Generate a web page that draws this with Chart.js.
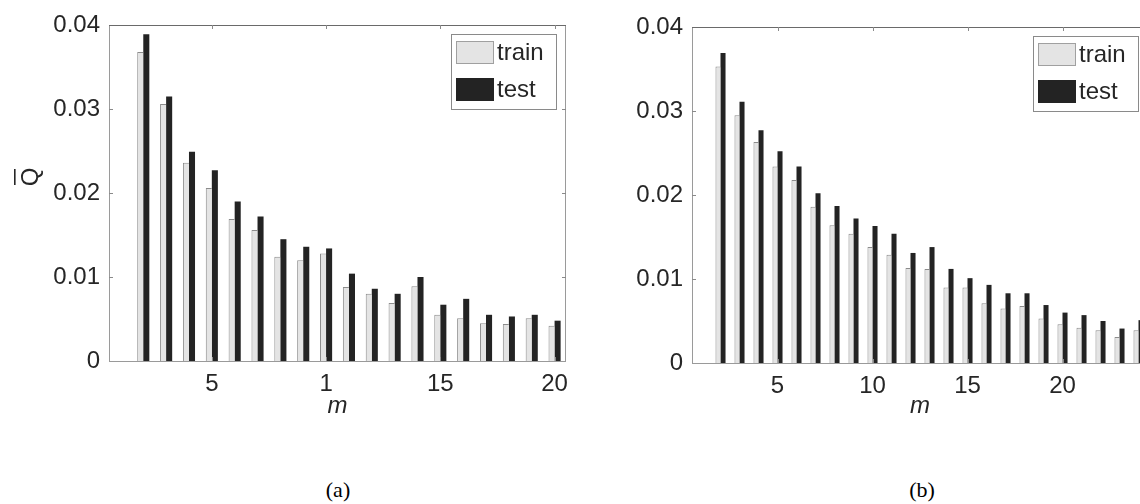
<!DOCTYPE html>
<html>
<head>
<meta charset="utf-8">
<script src="https://cdn.jsdelivr.net/npm/chart.js@4.4.0/dist/chart.umd.min.js"></script>
<style>
  body { margin: 0; width: 1140px; height: 504px; overflow: hidden; background: #fff; position: relative; }
  .panel { position: absolute; top: 0; height: 421px; }
  #panelA { left: 0; width: 580px; }
  #panelB { left: 580px; width: 580px; }
  .caption { position: absolute; top: 477px; font: 22px "Liberation Serif", "Times New Roman", serif; color: #000; transform: translateX(-50%); }
</style>
</head>
<body>
<div class="panel" id="panelA"><canvas id="chartA"></canvas></div>
<div class="panel" id="panelB"><canvas id="chartB"></canvas></div>
<div class="caption" style="left:338px">(a)</div>
<div class="caption" style="left:922px">(b)</div>
<script>
// (a) m = 2..20
let mA = [2, 3, 4, 5, 6, 7, 8, 9, 10, 11, 12, 13, 14, 15, 16, 17, 18, 19, 20];
let trainA = [0.0368, 0.0306, 0.0236, 0.0206, 0.0169, 0.0156, 0.0124, 0.0120, 0.0128, 0.0088,
  0.0080, 0.0069, 0.0089, 0.0055, 0.0051, 0.0045, 0.0044, 0.0051, 0.0042];
let testA = [0.0389, 0.0315, 0.0249, 0.0227, 0.0190, 0.0172, 0.0145, 0.0136, 0.0134, 0.0104,
  0.0086, 0.0080, 0.0100, 0.0067, 0.0074, 0.0055, 0.0053, 0.0055, 0.0048];

// (b) m = 2..24
let mB = [2, 3, 4, 5, 6, 7, 8, 9, 10, 11, 12, 13, 14, 15, 16, 17, 18, 19, 20, 21, 22, 23, 24];
let trainB = [0.0353, 0.0295, 0.0263, 0.0234, 0.0218, 0.0186, 0.0164, 0.0154, 0.0138, 0.0129,
  0.0113, 0.0112, 0.0090, 0.0090, 0.0071, 0.0065, 0.0068, 0.0053, 0.0046, 0.0042, 0.0039, 0.0031, 0.0039];
let testB = [0.0369, 0.0311, 0.0277, 0.0252, 0.0234, 0.0202, 0.0187, 0.0172, 0.0163, 0.0154,
  0.0131, 0.0138, 0.0112, 0.0101, 0.0093, 0.0083, 0.0083, 0.0069, 0.0060, 0.0057, 0.0050, 0.0041, 0.0051];

// tick labels
let xTickVals = [5, 10, 15, 20];
let xTickTextA = ["5", "1", "15", "20"];
let xTickTextB = ["5", "10", "15", "20"];
let yTickVals = [0, 0.01, 0.02, 0.03, 0.04];
let yTickText = ["0", "0.01", "0.02", "0.03", "0.04"];

const FONT = "'Liberation Sans', Arial, sans-serif";
const FS = 24;
const trainColor = "#e4e4e4";
const testColor = "#232323";

// box, inward ticks, legend and the Q-bar label, drawn the matlab way
const matlabAxes = {
  id: "matlabAxes",
  afterDraw(chart, args, o) {
    const ctx = chart.ctx;
    const a = chart.chartArea;
    const x = chart.scales.x;
    const y = chart.scales.y;
    ctx.save();

    ctx.lineWidth = 1;
    ctx.strokeStyle = "#9a9a9a";
    ctx.beginPath();
    ctx.moveTo(a.left + 0.5, a.top); ctx.lineTo(a.left + 0.5, a.bottom);
    ctx.moveTo(a.left, a.bottom + 0.5); ctx.lineTo(a.right, a.bottom + 0.5);
    ctx.moveTo(a.right - 0.5, a.top); ctx.lineTo(a.right - 0.5, a.bottom);
    ctx.stroke();
    ctx.strokeStyle = "#6a6a6a";
    ctx.beginPath();
    ctx.moveTo(a.left, a.top + 0.5); ctx.lineTo(a.right, a.top + 0.5);
    ctx.stroke();

    // inward tick marks
    ctx.strokeStyle = "#8a8a8a";
    ctx.beginPath();
    yTickVals.slice(1, -1).forEach((v) => {
      const py = Math.round(y.getPixelForValue(v)) + 0.5;
      ctx.moveTo(a.left, py); ctx.lineTo(a.left + 4, py);
      ctx.moveTo(a.right, py); ctx.lineTo(a.right - 4, py);
    });
    xTickVals.forEach((v) => {
      const px = Math.round(x.getPixelForValue(v)) + 0.5;
      ctx.moveTo(px, a.top); ctx.lineTo(px, a.top + 4);
      ctx.moveTo(px, a.bottom); ctx.lineTo(px, a.bottom - 4);
    });
    ctx.stroke();

    // legend in the upper right corner
    const bw = 105, bh = 75;
    const bx = a.right - 10 - bw, by = a.top + 9;
    ctx.fillStyle = "#fff";
    ctx.fillRect(bx, by, bw, bh);
    ctx.strokeStyle = "#8a8a8a";
    ctx.strokeRect(bx + 0.5, by + 0.5, bw, bh);
    ctx.font = FS + "px " + FONT;
    ctx.textBaseline = "middle";
    ctx.textAlign = "left";
    chart.data.datasets.forEach((ds, i) => {
      const sy = by + 7 + i * 37;
      ctx.fillStyle = ds.backgroundColor;
      ctx.fillRect(bx + 5, sy, 38, 23);
      if (i === 0) {
        ctx.strokeStyle = "#a0a0a0";
        ctx.strokeRect(bx + 5.5, sy + 0.5, 37, 22);
      }
      ctx.fillStyle = "#262626";
      ctx.fillText(ds.label, bx + 46, sy + 12);
    });

    // y label: Q with a bar over it
    ctx.translate(o.qx, o.qy);
    ctx.rotate(-Math.PI / 2);
    ctx.fillStyle = "#262626";
    ctx.font = FS + "px " + FONT;
    ctx.textAlign = "center";
    ctx.textBaseline = "alphabetic";
    ctx.fillText("Q", 0, 0);
    ctx.fillRect(-8, -24, 16, 1.6);
    ctx.restore();
  },
};

function makeChart(id, m, train, test, cfg) {
  const ctx = document.getElementById(id).getContext("2d");
  return new Chart(ctx, {
    type: "bar",
    data: {
      datasets: [
        {
          label: "train",
          data: m.map((v, i) => ({ x: v, y: train[i] })),
          backgroundColor: trainColor,
          borderColor: "#8c8c8c",
          borderWidth: { left: 1, top: 1, right: 0, bottom: 0 },
          borderSkipped: false,
        },
        {
          label: "test",
          data: m.map((v, i) => ({ x: v, y: test[i] })),
          backgroundColor: testColor,
          borderWidth: 0,
        },
      ],
    },
    options: {
      responsive: true,
      maintainAspectRatio: false,
      animation: false,
      categoryPercentage: 0.53,
      barPercentage: 1,
      layout: { padding: { top: cfg.top, right: cfg.right, left: 0, bottom: 0 } },
      plugins: {
        legend: { display: false },
        tooltip: { enabled: false },
        matlabAxes: { qx: cfg.qx, qy: cfg.qy },
      },
      scales: {
        x: {
          type: "linear",
          min: 0.5,
          max: cfg.xMax,
          offset: false,
          grid: { display: false, drawTicks: false, offset: false },
          border: { display: false },
          afterBuildTicks: (scale) => {
            scale.ticks = xTickVals.map((v) => ({ value: v }));
          },
          afterFit: (scale) => {
            scale.height = cfg.xHeight;
          },
          ticks: {
            padding: 9,
            color: "#262626",
            font: { family: FONT, size: FS },
            callback: (v) => cfg.xText[xTickVals.indexOf(v)],
          },
          title: {
            display: true,
            text: "m",
            color: "#262626",
            padding: { top: 0, bottom: 0 },
            font: { family: FONT, size: FS, style: "italic" },
          },
        },
        y: {
          min: 0,
          max: 0.04,
          grid: { display: false, drawTicks: false },
          border: { display: false },
          afterBuildTicks: (scale) => {
            scale.ticks = yTickVals.map((v) => ({ value: v }));
          },
          afterFit: (scale) => {
            scale.width = cfg.yWidth;
          },
          ticks: {
            padding: 9,
            color: "#262626",
            font: { family: FONT, size: FS },
            callback: (v) => yTickText[yTickVals.indexOf(v)],
          },
        },
      },
    },
    plugins: [matlabAxes],
  });
}

makeChart("chartA", mA, trainA, testA, {
  xMax: 20.5, xText: xTickTextA, top: 25, right: 14, yWidth: 109, xHeight: 60, qx: 38, qy: 177,
});
makeChart("chartB", mB, trainB, testB, {
  xMax: 24.5, xText: xTickTextB, top: 27, right: 12, yWidth: 112, xHeight: 58, qx: 617, qy: 182,
});
</script>
</body>
</html>
